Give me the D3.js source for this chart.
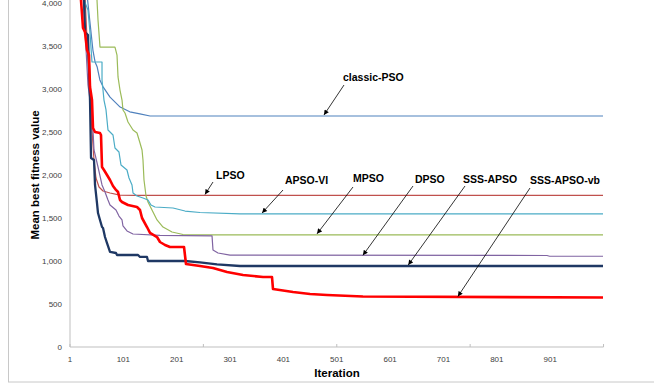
<!DOCTYPE html>
<html>
<head>
<meta charset="utf-8">
<script src="https://cdn.jsdelivr.net/npm/d3@7"></script>
<style>
  body { margin: 0; background: #fff; }
  text { font-family: "Liberation Sans", Arial, sans-serif; }
</style>
</head>
<body>
<svg width="654" height="387"></svg>
<script>
// series as [iteration, mean best fitness]
const classicPSO = [[1,6000],[30,4300],[34,4035],[38,3800],[44,3450],[48,3315],[52,3255],[57,3105],[63,3025],[76,2905],[95,2790],[113,2735],[132,2710],[151,2686],[1000,2686]];
const lpso = [[1,6000],[27,4400],[29,4093],[34.7,3337],[38.5,2872],[42.2,2523],[46,2174],[49.7,1965],[55.4,1860],[62.9,1814],[76,1791],[94.7,1767],[122.8,1762],[1000,1762]];
const mpso = [[1,8000],[50,4300],[51.6,4035],[53.5,3802],[57.2,3488],[85.3,3488],[89.1,3395],[91,3140],[94.7,2988],[98.5,2872],[100.3,2756],[104.1,2721],[109.7,2616],[119.1,2523],[126.6,2488],[132.2,2372],[136,2291],[137.8,2174],[139.7,1942],[143.5,1756],[147.2,1686],[154.7,1593],[164.1,1477],[175.3,1395],[192.2,1337],[212.8,1308],[244.7,1304],[1000,1304]];
const apsoVI = [[1,6000],[25,4300],[27.2,4035],[34.7,3919],[38.5,3651],[42.2,3314],[61,3314],[61,3105],[64.7,2872],[68.5,2756],[72.2,2523],[81.6,2465],[85.3,2314],[92.8,2267],[96.6,2116],[107.8,2058],[111.6,1965],[117.2,1884],[119.1,1791],[126.6,1756],[137.8,1733],[147.2,1709],[152.8,1651],[160.3,1628],[194.1,1616],[216.6,1581],[244.7,1564],[319.6,1547],[1000,1547]];
const dpso = [[1,6000],[24,4300],[25.4,4093],[29.1,3686],[34.7,3047],[38.5,2872],[44.1,2523],[46,2291],[53.5,2093],[61,1884],[66.6,1802],[72.2,1709],[76,1651],[87.2,1593],[92.8,1523],[98.5,1477],[100.3,1407],[107.8,1349],[119.1,1314],[169.7,1298],[267.2,1292],[269,1128],[278.4,1093],[300.9,1068],[895,1064],[900,1055],[1000,1055]];
const sssApso = [[1,6000],[26,4300],[27.2,4093],[29.1,3663],[34.7,3628],[38.5,2872],[40.4,2198],[46,2174],[47.9,1884],[51.6,1674],[53.5,1558],[57.2,1477],[61,1395],[62.9,1384],[66.6,1279],[70.4,1209],[76,1105],[87.2,1093],[89.1,1070],[128.5,1070],[132.2,1047],[145.3,1047],[147.2,1000],[216.6,1000],[244.7,983],[276.5,960],[319.6,942],[1000,942]];
const sssApsoVb = [[1,6000],[20,4300],[21.6,4035],[25.4,3709],[29.1,3663],[32.9,3453],[36.6,3395],[38.5,3023],[42.2,2872],[44.1,2547],[47.9,2500],[57.2,2488],[59.1,2465],[61,2093],[64.7,2058],[70.4,2000],[76,1942],[81.6,1872],[87.2,1826],[91,1802],[94.7,1709],[98.5,1686],[109.7,1651],[126.6,1628],[132.2,1593],[136,1500],[145.3,1395],[151,1326],[164.1,1279],[169.7,1221],[179.1,1186],[188.4,1163],[214.7,1163],[218.4,965],[244.7,942],[269,919],[295.3,872],[325.3,837],[362.8,814],[379.6,814],[381.5,674],[419,640],[450.9,616],[482.7,605],[550,587],[1000,576]];

const seriesNames = ["classic-PSO", "LPSO", "MPSO", "APSO-VI", "DPSO", "SSS-APSO", "SSS-APSO-vb"];
const seriesData = [classicPSO, lpso, mpso, apsoVI, dpso, sssApso, sssApsoVb];
const seriesColors = ["#4F81BD", "#C0504D", "#9BBB59", "#4BACC6", "#8064A2", "#1F3864", "#FF0000"];
const seriesWidths = [1.2, 1.2, 1.2, 1.2, 1.2, 2.3, 2.6];

const yTicks = [0, 500, 1000, 1500, 2000, 2500, 3000, 3500, 4000];
const xLabelTicks = [1, 101, 201, 301, 401, 501, 601, 701, 801, 901];
const xMarkTicks = [1, 251, 501, 751, 1001];

// arrow labels: text, label spot (px), arrow start (px), iteration the arrow points to
const annNames = ["classic-PSO", "LPSO", "APSO-VI", "MPSO", "DPSO", "SSS-APSO", "SSS-APSO-vb"];
const annIter = [477, 254, 361, 464, 550, 635, 728];
const annText = [[343, 81], [216, 179], [285, 184], [353, 182], [415, 183], [463, 183], [530, 184]];
const annFrom = [[344, 85], [213, 182], [283, 190], [353, 187], [413, 186], [465, 186], [530, 188]];

var svg = d3.select("svg");

// outer chart frame
svg.append("rect").attr("x", 8.5).attr("y", -2).attr("width", 660).attr("height", 384)
  .attr("fill", "#fff").attr("stroke", "#c8c8c8").attr("stroke-width", 1);

let x = d3.scaleLinear().domain([1, 1000]).range([70, 603]);
let y = d3.scaleLinear().domain([0, 4000]).range([347, 3]);

svg.append("defs").append("clipPath").attr("id", "plotclip")
  .append("rect").attr("x", 70).attr("y", 0).attr("width", 540).attr("height", 347);

// y axis
let yAxis = d3.axisLeft(y).tickValues(yTicks).tickSize(0).tickPadding(8).tickFormat(d3.format(","));
let gy = svg.append("g").attr("transform", "translate(70,0)").call(yAxis);
gy.select(".domain").attr("stroke", "#bfbfbf").attr("d", "M0,0V347");
gy.selectAll("text").attr("font-size", 8).attr("fill", "#404040");

// x axis: labels every 100, tick marks every 250
let gx = svg.append("g").attr("transform", "translate(0,347)");
gx.append("line").attr("x1", 70).attr("x2", 603.5).attr("stroke", "#bfbfbf");
gx.selectAll(".mark").data(xMarkTicks).enter().append("line")
  .attr("x1", d => x(d)).attr("x2", d => x(d)).attr("y1", -3).attr("y2", 0)
  .attr("stroke", "#bfbfbf");
gx.selectAll(".lab").data(xLabelTicks).enter().append("text")
  .attr("x", d => x(d)).attr("y", 15).attr("text-anchor", "middle")
  .attr("font-size", 8).attr("fill", "#404040").text(d => d);

// axis titles
svg.append("text").attr("x", 337).attr("y", 377).attr("text-anchor", "middle")
  .attr("font-size", 11.5).attr("font-weight", "bold").text("Iteration");
svg.append("text").attr("transform", "translate(39,175) rotate(-90)").attr("text-anchor", "middle")
  .attr("font-size", 11.5).attr("font-weight", "bold").text("Mean best fitness value");

// series lines
let line = d3.line().x(d => x(d[0])).y(d => y(d[1]));
let plot = svg.append("g").attr("clip-path", "url(#plotclip)");
plot.selectAll("path").data(seriesData).enter().append("path")
  .attr("d", line)
  .attr("fill", "none")
  .attr("stroke", (d, i) => seriesColors[i])
  .attr("stroke-width", (d, i) => seriesWidths[i])
  .attr("stroke-linejoin", "round");

// arrow annotations
svg.select("defs").append("marker").attr("id", "arrow")
  .attr("viewBox", "0 0 10 10").attr("refX", 10).attr("refY", 5)
  .attr("markerWidth", 6).attr("markerHeight", 5).attr("markerUnits", "userSpaceOnUse")
  .attr("orient", "auto")
  .append("path").attr("d", "M0,0L10,5L0,10Z").attr("fill", "#000");

function finalValue(name) {
  let s = seriesData[seriesNames.indexOf(name)];
  return s[s.length - 1][1];
}

let ann = svg.append("g");
annNames.forEach((name, i) => {
  ann.append("line")
    .attr("x1", annFrom[i][0]).attr("y1", annFrom[i][1])
    .attr("x2", x(annIter[i])).attr("y2", y(finalValue(name)) - 1)
    .attr("stroke", "#000").attr("stroke-width", 0.8)
    .attr("marker-end", "url(#arrow)");
  ann.append("text").attr("x", annText[i][0]).attr("y", annText[i][1])
    .attr("font-size", 10.5).attr("font-weight", "bold").text(name);
});
</script>
</body>
</html>
